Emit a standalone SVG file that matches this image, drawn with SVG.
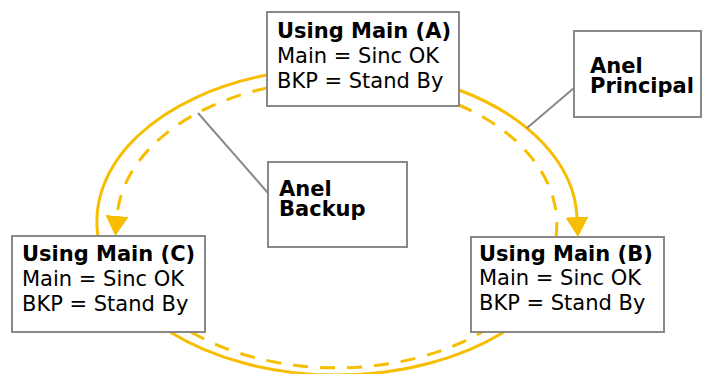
<svg xmlns="http://www.w3.org/2000/svg" width="703" height="374" viewBox="0 0 703 374">
  <style>
    .box { fill: #ffffff; stroke: #898989; stroke-width: 2; }
    .t { font-family: "DejaVu Sans", "Liberation Sans", sans-serif; font-size: 21px; fill: #000000; }
    .b { font-weight: bold; }
    .ring { fill: none; stroke: #f7be00; stroke-width: 3; }
    .dash { stroke-dasharray: 15 12; }
    .callout { fill: none; stroke: #898989; stroke-width: 2; }
  </style>
  <defs>
    <marker id="arrow" markerUnits="userSpaceOnUse" markerWidth="21" markerHeight="23" refX="0" refY="11.5" orient="auto">
      <path d="M0,0 L20,11.5 L0,23 z" fill="#f7be00"/>
    </marker>
  </defs>
  <rect width="703" height="374" fill="#ffffff"/>

  <!-- connectors: solid ring (clockwise) and dashed ring (counter-clockwise), callout leaders -->
  <g id="connectors">
    <path class="ring" d="M459,90 A240,153 0 0 1 577,217" marker-end="url(#arrow)"/>
    <path class="ring" d="M504,332 A240,153 0 0 1 170,332"/>
    <path class="ring" d="M98,236 A240,153 0 0 1 267,75"/>

    <path class="ring dash" d="M267,88 A220,143.5 0 0 0 117,216" marker-end="url(#arrow)"/>
    <path class="ring dash" d="M191,332 A220,143.5 0 0 0 482,332"/>
    <path class="ring dash" d="M556,237 A220,143.5 0 0 0 459,105"/>

    <line class="callout" x1="574" y1="88" x2="527" y2="128"/>
    <line class="callout" x1="268" y1="193" x2="198" y2="113"/>
  </g>

  <g id="node-a">
    <rect class="box" x="267" y="12" width="192" height="94"/>
    <text class="t b" x="277" y="38">Using Main (A)</text>
    <text class="t" x="277" y="63">Main = Sinc OK</text>
    <text class="t" x="277" y="88">BKP = Stand By</text>
  </g>

  <g id="node-b">
    <rect class="box" x="471" y="237" width="193" height="95"/>
    <text class="t b" x="479" y="261">Using Main (B)</text>
    <text class="t" x="479" y="285">Main = Sinc OK</text>
    <text class="t" x="479" y="310">BKP = Stand By</text>
  </g>

  <g id="node-c">
    <rect class="box" x="12" y="236" width="193" height="96"/>
    <text class="t b" x="22" y="261">Using Main (C)</text>
    <text class="t" x="22" y="286">Main = Sinc OK</text>
    <text class="t" x="22" y="311">BKP = Stand By</text>
  </g>

  <g id="label-principal">
    <rect class="box" x="574" y="31" width="127" height="86"/>
    <text class="t b" x="590" y="73">Anel</text>
    <text class="t b" x="590" y="93">Principal</text>
  </g>

  <g id="label-backup">
    <rect class="box" x="268" y="162" width="139" height="85"/>
    <text class="t b" x="279" y="196">Anel</text>
    <text class="t b" x="279" y="216">Backup</text>
  </g>
</svg>
